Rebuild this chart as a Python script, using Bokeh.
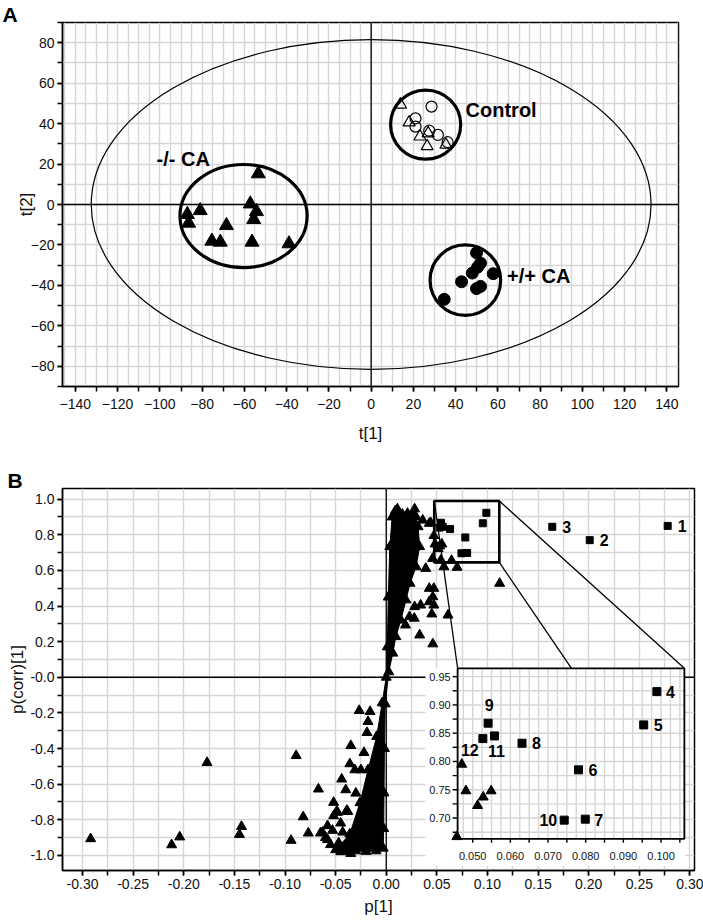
from bokeh.plotting import figure
from bokeh.models import Range1d, SingleIntervalTicker, Span, NumeralTickFormatter
from bokeh.layouts import column
from bokeh.embed import file_html
from bokeh.resources import INLINE
from bokeh.core.properties import value

FONT = "Liberation Sans"
GRID_COLOR = "#d6d6d6"
INK = "#111111"

# ------------------------------------------------------------------
# Panel A : score plot t[1] / t[2]
# ------------------------------------------------------------------
ko_t1 = [-87.0, -86.4, -80.9, -57.2, -54.3, -55.6, -68.5, -75.4, -71.4, -56.4, -38.9, -53.4]
ko_t2 = [-4.9, -9.2, -3.0, 0.3, -3.5, -7.4, -10.4, -18.1, -18.6, -18.6, -19.4, 15.2]
ctrl_circle_t1 = [28.6, 21.0, 21.0, 27.5, 31.6, 36.2]
ctrl_circle_t2 = [48.4, 42.6, 38.5, 36.5, 34.4, 30.8]
ctrl_triangle_t1 = [13.9, 18.0, 23.1, 27.0, 26.5, 35.4]
ctrl_triangle_t2 = [49.4, 40.6, 33.6, 35.2, 28.8, 29.6]
wt_t1 = [49.9, 51.8, 50.4, 47.9, 57.8, 42.8, 51.8, 49.9, 34.6]
wt_t2 = [-23.9, -29.0, -31.0, -33.9, -34.2, -38.2, -40.5, -41.6, -46.9]

t2_semi_axes = [132.5, 81.5]          # Hotelling T2 ellipse
group_names = ["-/- CA", "Control", "+/+ CA"]
group_center_t1 = [-60.4, 25.8, 44.6]
group_center_t2 = [-5.7, 39.5, -37.4]
group_semi_t1 = [30.1, 16.6, 16.7]
group_semi_t2 = [25.5, 17.1, 17.4]

# label anchor points (layout)
group_label_x = [-101.6, 44.7, 64.3]
group_label_y = [22.7, 46.9, -35.6]

AX0, AX1 = -146.1, 145.5
AY0, AY1 = -90.0, 90.0


def style_axes(p, label_size="14px", title_size="17px"):
    for ax in list(p.xaxis) + list(p.yaxis):
        ax.axis_line_width = 1.5
        ax.axis_line_color = "black"
        ax.major_tick_line_width = 1.5
        ax.minor_tick_line_width = 1.5
        ax.major_tick_line_color = "black"
        ax.minor_tick_line_color = "black"
        ax.major_tick_out = 5
        ax.major_tick_in = 0
        ax.minor_tick_out = 5
        ax.minor_tick_in = 0
        ax.major_label_text_font = FONT
        ax.major_label_text_font_size = label_size
        ax.major_label_text_color = INK
        ax.axis_label_text_font = FONT
        ax.axis_label_text_font_size = title_size
        ax.axis_label_text_font_style = "normal"
        ax.axis_label_text_color = INK
    p.grid.grid_line_color = GRID_COLOR
    p.grid.grid_line_width = 1.4
    p.outline_line_color = "black"
    p.outline_line_width = 1.5
    p.outline_line_alpha = 1.0
    p.background_fill_color = "white"
    p.border_fill_color = "white"


def panel_letter(p, letter, offset):
    p.title.text = letter
    p.title.align = "left"
    p.title.offset = offset
    p.title.standoff = -6
    p.title.text_font = FONT
    p.title.text_font_size = "21px"
    p.title.text_font_style = "bold"
    p.title.text_color = "black"


pA = figure(frame_width=616, frame_height=364,
            x_range=Range1d(AX0, AX1), y_range=Range1d(AY0, AY1),
            output_backend="svg", toolbar_location=None,
            min_border_left=62, min_border_right=25, min_border_top=22, min_border_bottom=80,
            x_axis_label="t[1]", y_axis_label="t[2]")
style_axes(pA)
panel_letter(pA, "A", -60)
pA.xaxis.ticker = SingleIntervalTicker(interval=20, num_minor_ticks=2)
pA.yaxis.ticker = SingleIntervalTicker(interval=20, num_minor_ticks=2)
pA.xgrid.ticker = SingleIntervalTicker(interval=5)
pA.ygrid.ticker = SingleIntervalTicker(interval=10)
pA.xaxis.major_label_standoff = 7
pA.yaxis.major_label_standoff = 3
pA.xaxis.axis_label_standoff = 12
pA.yaxis.axis_label_standoff = -8

pA.add_layout(Span(location=0, dimension="height", line_color="black", line_width=1.3, level="underlay"))
pA.add_layout(Span(location=0, dimension="width", line_color="black", line_width=1.3, level="underlay"))

pA.ellipse(x=[0], y=[0], width=[2 * t2_semi_axes[0]], height=[2 * t2_semi_axes[1]],
           fill_color=None, line_color="black", line_width=1.2)
pA.ellipse(x=group_center_t1, y=group_center_t2,
           width=[2 * v for v in group_semi_t1], height=[2 * v for v in group_semi_t2],
           fill_color=None, line_color="black", line_width=3.2)

pA.scatter(ko_t1, ko_t2, marker="triangle", size=14, color="black")
pA.scatter(ctrl_triangle_t1, ctrl_triangle_t2, marker="triangle", size=12,
           fill_color=None, line_color="black", line_width=1.2)
pA.scatter(ctrl_circle_t1, ctrl_circle_t2, marker="circle", size=11,
           fill_color=None, line_color="black", line_width=1.2)
pA.scatter(wt_t1, wt_t2, marker="circle", size=12, color="black")

pA.text(x=group_label_x, y=group_label_y, text=group_names,
        text_font=value(FONT), text_font_size="20px", text_font_style="bold",
        text_baseline="middle", text_align="left", text_color="black")

# ------------------------------------------------------------------
# Panel B : S-plot p[1] / p(corr)[1]
# ------------------------------------------------------------------
# dense core of the variable cloud (outline)
cloud_p = [0.028, 0.0295, 0.0315, 0.033, 0.0295, 0.0235, 0.0195, 0.0145, 0.0095, 0.0065, 0.0025,
           -0.001, -0.0018, -0.0022, -0.0025, -0.003,
           -0.010, -0.020, -0.030, -0.040, -0.046,
           -0.036, -0.026, -0.018, -0.0095, -0.004, 0.0,
           0.001, 0.002, 0.0035, 0.0058, 0.009, 0.011, 0.016, 0.021]
cloud_corr = [0.945, 0.90, 0.845, 0.733, 0.62, 0.527, 0.434, 0.321, 0.228, 0.135, 0.03,
              -0.15, -0.40, -0.65, -0.85, -0.96,
              -0.975, -0.978, -0.975, -0.965, -0.945,
              -0.88, -0.705, -0.52, -0.333, -0.144, 0.0,
              0.17, 0.45, 0.733, 0.90, 0.935, 0.945, 0.915, 0.92]

pos_out_p = [0.0425, 0.036, 0.044, 0.0471, 0.0482, 0.0528, 0.0549, 0.0513, 0.0458, 0.039,
             0.054, 0.057, 0.0645, 0.070, 0.0425, 0.047, 0.046, 0.034, 0.0425, 0.047,
             0.045, 0.061, 0.033, 0.046, 0.023, 0.028, 0.112, 0.019, 0.0277]
pos_out_corr = [0.864, 0.882, 0.867, 0.795, 0.748, 0.737, 0.748, 0.722, 0.667, 0.611,
                0.658, 0.620, 0.656, 0.617, 0.499, 0.499, 0.452, 0.405, 0.424, 0.405,
                0.355, 0.349, 0.237, 0.187, 0.340, 0.396, 0.527, 0.293, 0.331]

neg_out_p = [-0.292, -0.212, -0.204, -0.177, -0.143, -0.145, -0.089, -0.094, -0.082, -0.077,
             -0.067, -0.052, -0.044, -0.040, -0.036, -0.035, -0.049, -0.052, -0.039, -0.058,
             -0.063, -0.058, -0.050, -0.040, -0.0267, -0.016, -0.018, -0.019, -0.022, -0.031,
             -0.025, -0.030, -0.048, -0.038, -0.065, -0.045, -0.055, -0.047, -0.043, -0.053,
             -0.060, -0.045, -0.035]
neg_out_corr = [-0.907, -0.941, -0.897, -0.479, -0.838, -0.883, -0.440, -0.916, -0.784, -0.875,
                -0.628, -0.703, -0.572, -0.632, -0.486, -0.384, -0.754, -0.778, -0.748, -0.834,
                -0.871, -0.912, -0.969, -0.978, -0.187, -0.193, -0.249, -0.311, -0.423, -0.520,
                -0.520, -0.651, -0.759, -0.754, -0.875, -0.819, -0.940, -0.930, -0.870, -0.860,
                -0.900, -0.980, -0.990]

marker_ids = ["1", "2", "3", "4", "5", "6", "7", "8", "9", "10", "11", "12"]
marker_p = [0.278, 0.201, 0.164, 0.0989, 0.0954, 0.0781, 0.0799, 0.0631, 0.0541, 0.0743, 0.0558, 0.0527]
marker_corr = [0.850, 0.770, 0.845, 0.9235, 0.8647, 0.7852, 0.698, 0.8323, 0.8677, 0.6963, 0.8452, 0.8405]

# inset (zoom) axes
inset_xticks = [0.050, 0.055, 0.060, 0.065, 0.070, 0.075, 0.080, 0.085, 0.090, 0.095, 0.100, 0.105]
inset_xlabels = ["0.050", "0.060", "0.070", "0.080", "0.090", "0.100"]
inset_yticks = [0.675, 0.700, 0.725, 0.750, 0.775, 0.800, 0.825, 0.850, 0.875, 0.900, 0.925, 0.950]
inset_ylabels = ["0.70", "0.75", "0.80", "0.85", "0.90", "0.95"]
inset_xgrid = [0.0475, 0.050, 0.0525, 0.055, 0.0575, 0.060, 0.0625, 0.065, 0.0675, 0.070, 0.0725,
               0.075, 0.0775, 0.080, 0.0825, 0.085, 0.0875, 0.090, 0.0925, 0.095, 0.0975, 0.100,
               0.1025, 0.105]
inset_ygrid = inset_yticks

# ---- layout of panel B ----
BX0, BX1 = -0.3198, 0.3045
BY0, BY1 = -1.085, 1.06
B_FW, B_FH = 632, 382
inset_x_lo, inset_x_hi = 0.046, 0.1062
inset_y_lo, inset_y_hi = 0.6633, 0.9648
inset_at_x = (0.0705, 0.2945)      # inset frame placed in main-plot coordinates
inset_at_y = (-0.907, 0.0505)
backdrop_x = (0.0388, 0.2950)
backdrop_y = (-1.058, 0.0505)
zoom_box_x = (0.0474, 0.1117)
zoom_box_y = (0.645, 0.990)
connector_end_x = [0.0705, 0.183, 0.2945]

pB = figure(frame_width=B_FW, frame_height=B_FH,
            x_range=Range1d(BX0, BX1), y_range=Range1d(BY0, BY1),
            output_backend="svg", toolbar_location=None,
            min_border_left=60, min_border_right=11, min_border_top=22, min_border_bottom=52,
            x_axis_label="p[1]", y_axis_label="p(corr)[1]")
style_axes(pB)
panel_letter(pB, "B", -55)
pB.xaxis.ticker = SingleIntervalTicker(interval=0.05, num_minor_ticks=2)
pB.yaxis.ticker = SingleIntervalTicker(interval=0.2, num_minor_ticks=2)
pB.xaxis.formatter = NumeralTickFormatter(format="0.00")
pB.yaxis.formatter = NumeralTickFormatter(format="0.0")
pB.yaxis.major_label_overrides = {0: "-0.0"}
pB.xgrid.ticker = SingleIntervalTicker(interval=0.025)
pB.ygrid.ticker = SingleIntervalTicker(interval=0.1)
pB.xaxis.major_label_standoff = 3
pB.yaxis.major_label_standoff = 3
pB.xaxis.axis_label_standoff = 5
pB.yaxis.axis_label_standoff = 0

sx = (inset_x_hi - inset_x_lo) / (inset_at_x[1] - inset_at_x[0])
sy = (inset_y_hi - inset_y_lo) / (inset_at_y[1] - inset_at_y[0])
ix0 = inset_x_lo + (BX0 - inset_at_x[0]) * sx
ix1 = inset_x_lo + (BX1 - inset_at_x[0]) * sx
iy0 = inset_y_lo + (BY0 - inset_at_y[0]) * sy
iy1 = inset_y_lo + (BY1 - inset_at_y[0]) * sy
pB.extra_x_ranges = {"inset": Range1d(ix0, ix1)}
pB.extra_y_ranges = {"inset": Range1d(iy0, iy1)}
px_x = (ix1 - ix0) / B_FW      # inset units per screen pixel
px_y = (iy1 - iy0) / B_FH

pB.add_layout(Span(location=0, dimension="height", line_color="black", line_width=1.3, level="underlay"))
pB.add_layout(Span(location=0, dimension="width", line_color="black", line_width=1.3, level="underlay"))

# main cloud
pB.patch(cloud_p, cloud_corr, fill_color="black", line_color="black", line_width=1)
pB.scatter(cloud_p, cloud_corr, marker="triangle", size=10, color="black")
pB.scatter(pos_out_p, pos_out_corr, marker="triangle", size=10, color="black")
pB.scatter(neg_out_p, neg_out_corr, marker="triangle", size=10, color="black")
pB.scatter(marker_p, marker_corr, marker="square", size=7, color="black")

# inset backdrop + grid + frame
pB.quad(left=[backdrop_x[0]], right=[backdrop_x[1]], bottom=[backdrop_y[0]], top=[backdrop_y[1]],
        fill_color="white", line_color=None)
pB.segment(x0=inset_xgrid, x1=inset_xgrid, y0=[inset_y_lo] * len(inset_xgrid), y1=[inset_y_hi] * len(inset_xgrid),
           line_color=GRID_COLOR, line_width=1.4, x_range_name="inset", y_range_name="inset")
pB.segment(x0=[inset_x_lo] * len(inset_ygrid), x1=[inset_x_hi] * len(inset_ygrid), y0=inset_ygrid, y1=inset_ygrid,
           line_color=GRID_COLOR, line_width=1.4, x_range_name="inset", y_range_name="inset")
pB.quad(left=[inset_x_lo], right=[inset_x_hi], bottom=[inset_y_lo], top=[inset_y_hi],
        fill_color=None, line_color="black", line_width=1.8, x_range_name="inset", y_range_name="inset")
# inset ticks
pB.segment(x0=inset_xticks, x1=inset_xticks, y0=[inset_y_lo] * len(inset_xticks),
           y1=[inset_y_lo - 4 * px_y] * len(inset_xticks),
           line_color="black", line_width=1.4, x_range_name="inset", y_range_name="inset")
pB.segment(x0=[inset_x_lo] * len(inset_yticks), x1=[inset_x_lo - 5 * px_x] * len(inset_yticks),
           y0=inset_yticks, y1=inset_yticks,
           line_color="black", line_width=1.4, x_range_name="inset", y_range_name="inset")
pB.text(x=[float(s) for s in inset_xlabels], y=[inset_y_lo] * len(inset_xlabels), text=inset_xlabels,
        x_range_name="inset", y_range_name="inset", y_offset=17,
        text_font=value(FONT), text_font_size="11px", text_align="center", text_baseline="middle",
        text_color=INK)
pB.text(x=[inset_x_lo] * len(inset_ylabels), y=[float(s) for s in inset_ylabels], text=inset_ylabels,
        x_range_name="inset", y_range_name="inset", x_offset=-7,
        text_font=value(FONT), text_font_size="11px", text_align="right", text_baseline="middle",
        text_color=INK)

# inset points
tol = 0.0005
in_tri = [(a, b) for a, b in zip(pos_out_p, pos_out_corr)
          if inset_x_lo - tol <= a <= inset_x_hi and inset_y_lo <= b <= inset_y_hi]
in_sq = [(i, a, b) for i, a, b in zip(marker_ids, marker_p, marker_corr)
         if inset_x_lo <= a <= inset_x_hi and inset_y_lo <= b <= inset_y_hi]
pB.scatter([a for a, b in in_tri], [b for a, b in in_tri], marker="triangle", size=10, color="black",
           x_range_name="inset", y_range_name="inset")
pB.scatter([a for i, a, b in in_sq], [b for i, a, b in in_sq], marker="square", size=8, color="black",
           x_range_name="inset", y_range_name="inset")

label_dx = {"4": 9, "5": 10, "6": 10, "7": 9, "8": 10, "9": 1, "10": -7, "11": 2, "12": -13}
label_dy = {"4": 0, "5": 0, "6": 0, "7": 1, "8": 0, "9": -18, "10": 0, "11": 15, "12": 11}
label_align = {"4": "left", "5": "left", "6": "left", "7": "left", "8": "left",
               "9": "center", "10": "right", "11": "center", "12": "center"}
for align in ["left", "center", "right"]:
    sel = [(i, a, b) for i, a, b in in_sq if label_align[i] == align]
    pB.text(x=[a for i, a, b in sel], y=[b for i, a, b in sel], text=[i for i, a, b in sel],
            x_offset=[label_dx[i] for i, a, b in sel], y_offset=[label_dy[i] for i, a, b in sel],
            x_range_name="inset", y_range_name="inset",
            text_font=value(FONT), text_font_size="16px", text_font_style="bold",
            text_align=align, text_baseline="middle", text_color="black")

# zoom box + connectors
pB.quad(left=[zoom_box_x[0]], right=[zoom_box_x[1]], bottom=[zoom_box_y[0]], top=[zoom_box_y[1]],
        fill_color=None, line_color="black", line_width=2.6)
pB.segment(x0=[zoom_box_x[0], zoom_box_x[1], zoom_box_x[1]],
           y0=[zoom_box_y[1], zoom_box_y[0], zoom_box_y[1]],
           x1=connector_end_x, y1=[inset_at_y[1]] * 3,
           line_color="black", line_width=1.3)

# labels of the three outlying markers
main_lab = [(i, a, b) for i, a, b in zip(marker_ids, marker_p, marker_corr) if i in ("1", "2", "3")]
pB.text(x=[a for i, a, b in main_lab], y=[b for i, a, b in main_lab], text=[i for i, a, b in main_lab],
        x_offset=10, text_font=value(FONT), text_font_size="16px", text_font_style="bold",
        text_align="left", text_baseline="middle", text_color="black")

layout = column(pA, pB, spacing=0)
open("out.html", "w").write(file_html(layout, INLINE))
